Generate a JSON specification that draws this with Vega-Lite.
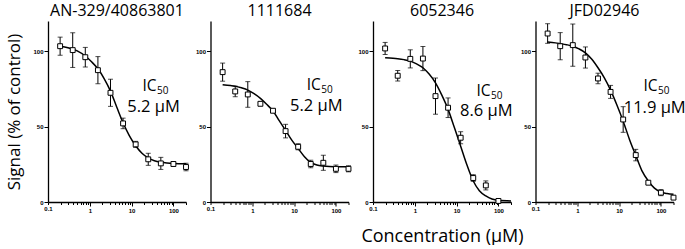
{
  "$schema": "https://vega.github.io/schema/vega-lite/v6.json",
  "background": "white",
  "padding": {"left": 5, "top": 3, "right": 0, "bottom": 0},
  "spacing": 24.5,
  "bounds": "flush",
  "config": {
    "view": {"stroke": null},
    "axis": {"grid": false, "domainColor": "black", "tickColor": "black", "labelColor": "black", "labelFont": "Liberation Sans", "labelFontWeight": "bold", "labelFontSize": 6, "domainWidth": 1.3, "tickWidth": 1, "titleColor": "black", "titleFont": "Open Sans", "titleFontWeight": "normal"},
    "title": {"font": "Open Sans", "fontSize": 16, "fontWeight": "normal", "offset": 2, "color": "black"}
  },
  "data": {"values": [
    {"panel": "AN-329/40863801", "kind": "pt", "conc": 0.195, "y": 103.3, "lo": 97.3, "hi": 109.3},
    {"panel": "AN-329/40863801", "kind": "pt", "conc": 0.39, "y": 100.7, "lo": 89.2, "hi": 112.2},
    {"panel": "AN-329/40863801", "kind": "pt", "conc": 0.78, "y": 96, "lo": 89.5, "hi": 102.5},
    {"panel": "AN-329/40863801", "kind": "pt", "conc": 1.5625, "y": 87.4, "lo": 78.4, "hi": 96.4},
    {"panel": "AN-329/40863801", "kind": "pt", "conc": 3.125, "y": 72.4, "lo": 63.4, "hi": 81.4},
    {"panel": "AN-329/40863801", "kind": "pt", "conc": 6.25, "y": 52.1, "lo": 48.6, "hi": 55.6},
    {"panel": "AN-329/40863801", "kind": "pt", "conc": 12.5, "y": 38.2, "lo": 36.2, "hi": 40.2},
    {"panel": "AN-329/40863801", "kind": "pt", "conc": 25, "y": 28.3, "lo": 24.3, "hi": 32.3},
    {"panel": "AN-329/40863801", "kind": "pt", "conc": 50, "y": 25.6, "lo": 21.6, "hi": 29.6},
    {"panel": "AN-329/40863801", "kind": "pt", "conc": 100, "y": 25.2, "lo": 23.7, "hi": 26.7},
    {"panel": "AN-329/40863801", "kind": "pt", "conc": 200, "y": 23.2, "lo": 20.7, "hi": 25.7},
    {"panel": "AN-329/40863801", "kind": "fit", "conc": 0.195, "y": 103.3},
    {"panel": "AN-329/40863801", "kind": "fit", "conc": 0.3, "y": 102.3},
    {"panel": "AN-329/40863801", "kind": "fit", "conc": 0.5, "y": 100.2},
    {"panel": "AN-329/40863801", "kind": "fit", "conc": 0.78, "y": 96.8},
    {"panel": "AN-329/40863801", "kind": "fit", "conc": 1.1, "y": 93},
    {"panel": "AN-329/40863801", "kind": "fit", "conc": 1.5625, "y": 88.3},
    {"panel": "AN-329/40863801", "kind": "fit", "conc": 2.2, "y": 81.8},
    {"panel": "AN-329/40863801", "kind": "fit", "conc": 3.125, "y": 73.5},
    {"panel": "AN-329/40863801", "kind": "fit", "conc": 4.4, "y": 63},
    {"panel": "AN-329/40863801", "kind": "fit", "conc": 6.25, "y": 52.5},
    {"panel": "AN-329/40863801", "kind": "fit", "conc": 8.8, "y": 44},
    {"panel": "AN-329/40863801", "kind": "fit", "conc": 12.5, "y": 37.3},
    {"panel": "AN-329/40863801", "kind": "fit", "conc": 17.7, "y": 32.3},
    {"panel": "AN-329/40863801", "kind": "fit", "conc": 25, "y": 29.2},
    {"panel": "AN-329/40863801", "kind": "fit", "conc": 35, "y": 27.4},
    {"panel": "AN-329/40863801", "kind": "fit", "conc": 50, "y": 26.4},
    {"panel": "AN-329/40863801", "kind": "fit", "conc": 70, "y": 25.9},
    {"panel": "AN-329/40863801", "kind": "fit", "conc": 100, "y": 25.6},
    {"panel": "AN-329/40863801", "kind": "fit", "conc": 200, "y": 25.4},
    {"panel": "AN-329/40863801", "kind": "ic", "conc": 39.5, "y": 73.5, "label": "IC", "sub": "50"},
    {"panel": "AN-329/40863801", "kind": "val", "conc": 33.5, "y": 60, "label": "5.2 µM"},

    {"panel": "1111684", "kind": "pt", "conc": 0.195, "y": 86.1, "lo": 80.1, "hi": 92.1},
    {"panel": "1111684", "kind": "pt", "conc": 0.39, "y": 73.3, "lo": 69.8, "hi": 76.8},
    {"panel": "1111684", "kind": "pt", "conc": 0.78, "y": 71.3, "lo": 62.8, "hi": 79.8},
    {"panel": "1111684", "kind": "pt", "conc": 1.5625, "y": 65.1, "lo": 64.1, "hi": 66.1},
    {"panel": "1111684", "kind": "pt", "conc": 3.125, "y": 60.5, "lo": 59.5, "hi": 61.5},
    {"panel": "1111684", "kind": "pt", "conc": 6.25, "y": 47, "lo": 42.5, "hi": 51.5},
    {"panel": "1111684", "kind": "pt", "conc": 12.5, "y": 36.6, "lo": 34.6, "hi": 38.6},
    {"panel": "1111684", "kind": "pt", "conc": 25, "y": 25.2, "lo": 22.7, "hi": 27.7},
    {"panel": "1111684", "kind": "pt", "conc": 50, "y": 26, "lo": 21, "hi": 31},
    {"panel": "1111684", "kind": "pt", "conc": 100, "y": 22, "lo": 19.5, "hi": 24.5},
    {"panel": "1111684", "kind": "pt", "conc": 200, "y": 22, "lo": 20, "hi": 24},
    {"panel": "1111684", "kind": "fit", "conc": 0.195, "y": 77.7},
    {"panel": "1111684", "kind": "fit", "conc": 0.3, "y": 77.2},
    {"panel": "1111684", "kind": "fit", "conc": 0.39, "y": 76.8},
    {"panel": "1111684", "kind": "fit", "conc": 0.55, "y": 75.7},
    {"panel": "1111684", "kind": "fit", "conc": 0.78, "y": 74.2},
    {"panel": "1111684", "kind": "fit", "conc": 1.1, "y": 71.8},
    {"panel": "1111684", "kind": "fit", "conc": 1.5625, "y": 68.7},
    {"panel": "1111684", "kind": "fit", "conc": 2.2, "y": 64.8},
    {"panel": "1111684", "kind": "fit", "conc": 3.125, "y": 60.3},
    {"panel": "1111684", "kind": "fit", "conc": 4.4, "y": 54},
    {"panel": "1111684", "kind": "fit", "conc": 6.25, "y": 47.5},
    {"panel": "1111684", "kind": "fit", "conc": 8.8, "y": 41},
    {"panel": "1111684", "kind": "fit", "conc": 12.5, "y": 35.5},
    {"panel": "1111684", "kind": "fit", "conc": 17.7, "y": 30},
    {"panel": "1111684", "kind": "fit", "conc": 25, "y": 26.2},
    {"panel": "1111684", "kind": "fit", "conc": 35, "y": 24.5},
    {"panel": "1111684", "kind": "fit", "conc": 50, "y": 23.8},
    {"panel": "1111684", "kind": "fit", "conc": 70, "y": 23.5},
    {"panel": "1111684", "kind": "fit", "conc": 100, "y": 23.4},
    {"panel": "1111684", "kind": "fit", "conc": 200, "y": 23.3},
    {"panel": "1111684", "kind": "ic", "conc": 43.4, "y": 74.2, "label": "IC", "sub": "50"},
    {"panel": "1111684", "kind": "val", "conc": 33.9, "y": 60.3, "label": "5.2 µM"},

    {"panel": "6052346", "kind": "pt", "conc": 0.195, "y": 101.8, "lo": 97.8, "hi": 105.8},
    {"panel": "6052346", "kind": "pt", "conc": 0.39, "y": 83.7, "lo": 80.2, "hi": 87.2},
    {"panel": "6052346", "kind": "pt", "conc": 0.78, "y": 94.9, "lo": 88.9, "hi": 100.9},
    {"panel": "6052346", "kind": "pt", "conc": 1.5625, "y": 95.1, "lo": 87.1, "hi": 103.1},
    {"panel": "6052346", "kind": "pt", "conc": 3.125, "y": 70.2, "lo": 58.2, "hi": 82.2},
    {"panel": "6052346", "kind": "pt", "conc": 6.25, "y": 62.5, "lo": 56, "hi": 69},
    {"panel": "6052346", "kind": "pt", "conc": 12.5, "y": 42.6, "lo": 38.6, "hi": 46.6},
    {"panel": "6052346", "kind": "pt", "conc": 25, "y": 15.9, "lo": 13.7, "hi": 18.1},
    {"panel": "6052346", "kind": "pt", "conc": 50, "y": 11, "lo": 8, "hi": 14},
    {"panel": "6052346", "kind": "pt", "conc": 100, "y": 0.7, "lo": 0.2, "hi": 1.2},
    {"panel": "6052346", "kind": "fit", "conc": 0.195, "y": 95.6},
    {"panel": "6052346", "kind": "fit", "conc": 0.3, "y": 95.3},
    {"panel": "6052346", "kind": "fit", "conc": 0.39, "y": 95},
    {"panel": "6052346", "kind": "fit", "conc": 0.55, "y": 94.4},
    {"panel": "6052346", "kind": "fit", "conc": 0.78, "y": 93.4},
    {"panel": "6052346", "kind": "fit", "conc": 1.1, "y": 91.6},
    {"panel": "6052346", "kind": "fit", "conc": 1.5625, "y": 89},
    {"panel": "6052346", "kind": "fit", "conc": 2.2, "y": 84.8},
    {"panel": "6052346", "kind": "fit", "conc": 3.125, "y": 79},
    {"panel": "6052346", "kind": "fit", "conc": 4.4, "y": 71},
    {"panel": "6052346", "kind": "fit", "conc": 6.25, "y": 61.4},
    {"panel": "6052346", "kind": "fit", "conc": 8.8, "y": 49.5},
    {"panel": "6052346", "kind": "fit", "conc": 12.5, "y": 37},
    {"panel": "6052346", "kind": "fit", "conc": 17.7, "y": 24.5},
    {"panel": "6052346", "kind": "fit", "conc": 25, "y": 13.9},
    {"panel": "6052346", "kind": "fit", "conc": 35, "y": 7.5},
    {"panel": "6052346", "kind": "fit", "conc": 50, "y": 4},
    {"panel": "6052346", "kind": "fit", "conc": 70, "y": 2},
    {"panel": "6052346", "kind": "fit", "conc": 100, "y": 1.1},
    {"panel": "6052346", "kind": "fit", "conc": 200, "y": 0.7},
    {"panel": "6052346", "kind": "ic", "conc": 65, "y": 70.2, "label": "IC", "sub": "50"},
    {"panel": "6052346", "kind": "val", "conc": 51.3, "y": 57, "label": "8.6 µM"},

    {"panel": "JFD02946", "kind": "pt", "conc": 0.195, "y": 111.7, "lo": 105.2, "hi": 118.2},
    {"panel": "JFD02946", "kind": "pt", "conc": 0.39, "y": 103.3, "lo": 94.3, "hi": 112.3},
    {"panel": "JFD02946", "kind": "pt", "conc": 0.78, "y": 104, "lo": 90, "hi": 118},
    {"panel": "JFD02946", "kind": "pt", "conc": 1.5625, "y": 95.8, "lo": 88.8, "hi": 102.8},
    {"panel": "JFD02946", "kind": "pt", "conc": 3.125, "y": 81.9, "lo": 78.4, "hi": 85.4},
    {"panel": "JFD02946", "kind": "pt", "conc": 6.25, "y": 73, "lo": 68.7, "hi": 77.3},
    {"panel": "JFD02946", "kind": "pt", "conc": 12.5, "y": 54.7, "lo": 46.2, "hi": 63.2},
    {"panel": "JFD02946", "kind": "pt", "conc": 25, "y": 31.1, "lo": 27.3, "hi": 34.9},
    {"panel": "JFD02946", "kind": "pt", "conc": 50, "y": 12.8, "lo": 11.8, "hi": 13.8},
    {"panel": "JFD02946", "kind": "pt", "conc": 100, "y": 6.2, "lo": 4.2, "hi": 8.2},
    {"panel": "JFD02946", "kind": "pt", "conc": 200, "y": 2.9, "lo": 1.9, "hi": 3.9},
    {"panel": "JFD02946", "kind": "fit", "conc": 0.195, "y": 106},
    {"panel": "JFD02946", "kind": "fit", "conc": 0.3, "y": 105.5},
    {"panel": "JFD02946", "kind": "fit", "conc": 0.39, "y": 105},
    {"panel": "JFD02946", "kind": "fit", "conc": 0.55, "y": 104.3},
    {"panel": "JFD02946", "kind": "fit", "conc": 0.78, "y": 103.3},
    {"panel": "JFD02946", "kind": "fit", "conc": 1.1, "y": 101.5},
    {"panel": "JFD02946", "kind": "fit", "conc": 1.5625, "y": 98.9},
    {"panel": "JFD02946", "kind": "fit", "conc": 2.2, "y": 94.8},
    {"panel": "JFD02946", "kind": "fit", "conc": 3.125, "y": 89},
    {"panel": "JFD02946", "kind": "fit", "conc": 4.4, "y": 82.5},
    {"panel": "JFD02946", "kind": "fit", "conc": 6.25, "y": 74.2},
    {"panel": "JFD02946", "kind": "fit", "conc": 8.8, "y": 64.5},
    {"panel": "JFD02946", "kind": "fit", "conc": 12.5, "y": 53.6},
    {"panel": "JFD02946", "kind": "fit", "conc": 17.7, "y": 41.5},
    {"panel": "JFD02946", "kind": "fit", "conc": 25, "y": 30.9},
    {"panel": "JFD02946", "kind": "fit", "conc": 35, "y": 20.8},
    {"panel": "JFD02946", "kind": "fit", "conc": 50, "y": 13.9},
    {"panel": "JFD02946", "kind": "fit", "conc": 70, "y": 9.2},
    {"panel": "JFD02946", "kind": "fit", "conc": 100, "y": 6.6},
    {"panel": "JFD02946", "kind": "fit", "conc": 140, "y": 5.6},
    {"panel": "JFD02946", "kind": "fit", "conc": 200, "y": 5.1},
    {"panel": "JFD02946", "kind": "ic", "conc": 82.9, "y": 73.5, "label": "IC", "sub": "50"},
    {"panel": "JFD02946", "kind": "val", "conc": 71, "y": 59.2, "label": "11.9 µM"}
  ]},
  "hconcat": [
    {
      "title": "AN-329/40863801", "width": 138, "height": 181,
      "transform": [{"filter": {"field": "panel", "equal": "AN-329/40863801"}}],
      "encoding": {
        "x": {"field": "conc", "type": "quantitative", "scale": {"type": "log", "domain": [0.1, 200], "nice": false},
              "axis": {"title": null, "values": [0.1,0.2,0.3,0.4,0.5,0.6,0.7,0.8,0.9,1,2,3,4,5,6,7,8,9,10,20,30,40,50,60,70,80,90,100,200], "format": "~g", "labelExpr": "datum.value == 0.1 || datum.value == 1 || datum.value == 10 || datum.value == 100 ? datum.label : ''", "labelOverlap": false, "labelFlush": false, "labelPadding": 1, "tickSize": {"condition": {"test": "datum.value == 1 || datum.value == 10 || datum.value == 100", "value": 4}, "value": 2.5}}},
        "y": {"field": "y", "type": "quantitative", "scale": {"domain": [0, 120], "nice": false},
              "axis": {"title": "Signal (% of control)", "titleFontSize": 17, "titlePadding": 9, "values": [0, 50, 100], "tickSize": 4, "labelPadding": 1}}
      },
      "layer": [
        {"transform": [{"filter": {"field": "kind", "equal": "fit"}}], "mark": {"type": "line", "color": "black", "strokeWidth": 1.5, "interpolate": "monotone"}},
        {"transform": [{"filter": {"field": "kind", "equal": "pt"}}], "mark": {"type": "rule", "color": "black", "strokeWidth": 1}, "encoding": {"y": {"field": "lo", "type": "quantitative"}, "y2": {"field": "hi"}}},
        {"transform": [{"filter": {"field": "kind", "equal": "pt"}}], "mark": {"type": "tick", "orient": "horizontal", "size": 5, "thickness": 1, "color": "black"}, "encoding": {"y": {"field": "lo", "type": "quantitative"}}},
        {"transform": [{"filter": {"field": "kind", "equal": "pt"}}], "mark": {"type": "tick", "orient": "horizontal", "size": 5, "thickness": 1, "color": "black"}, "encoding": {"y": {"field": "hi", "type": "quantitative"}}},
        {"transform": [{"filter": {"field": "kind", "equal": "pt"}}], "mark": {"type": "point", "shape": "square", "size": 24, "filled": true, "fill": "white", "stroke": "black", "strokeWidth": 1, "opacity": 1}},
        {"transform": [{"filter": {"field": "kind", "equal": "ic"}}], "mark": {"type": "text", "align": "right", "baseline": "alphabetic", "fontSize": 15.5, "font": "Open Sans", "color": "black"}, "encoding": {"text": {"field": "label"}}},
        {"transform": [{"filter": {"field": "kind", "equal": "ic"}}], "mark": {"type": "text", "align": "left", "baseline": "alphabetic", "fontSize": 10, "dx": 0.5, "dy": 3, "font": "Open Sans", "color": "black"}, "encoding": {"text": {"field": "sub"}}},
        {"transform": [{"filter": {"field": "kind", "equal": "val"}}], "mark": {"type": "text", "align": "center", "baseline": "alphabetic", "fontSize": 16.5, "font": "Open Sans", "color": "black"}, "encoding": {"text": {"field": "label"}}}
      ]
    },
    {
      "title": "1111684", "width": 138, "height": 181,
      "transform": [{"filter": {"field": "panel", "equal": "1111684"}}],
      "encoding": {
        "x": {"field": "conc", "type": "quantitative", "scale": {"type": "log", "domain": [0.1, 200], "nice": false},
              "axis": {"title": null, "values": [0.1,0.2,0.3,0.4,0.5,0.6,0.7,0.8,0.9,1,2,3,4,5,6,7,8,9,10,20,30,40,50,60,70,80,90,100,200], "format": "~g", "labelExpr": "datum.value == 0.1 || datum.value == 1 || datum.value == 10 || datum.value == 100 ? datum.label : ''", "labelOverlap": false, "labelFlush": false, "labelPadding": 1, "tickSize": {"condition": {"test": "datum.value == 1 || datum.value == 10 || datum.value == 100", "value": 4}, "value": 2.5}}},
        "y": {"field": "y", "type": "quantitative", "scale": {"domain": [0, 120], "nice": false},
              "axis": {"title": null, "values": [0, 50, 100], "tickSize": 4, "labelPadding": 1}}
      },
      "layer": [
        {"transform": [{"filter": {"field": "kind", "equal": "fit"}}], "mark": {"type": "line", "color": "black", "strokeWidth": 1.5, "interpolate": "monotone"}},
        {"transform": [{"filter": {"field": "kind", "equal": "pt"}}], "mark": {"type": "rule", "color": "black", "strokeWidth": 1}, "encoding": {"y": {"field": "lo", "type": "quantitative"}, "y2": {"field": "hi"}}},
        {"transform": [{"filter": {"field": "kind", "equal": "pt"}}], "mark": {"type": "tick", "orient": "horizontal", "size": 5, "thickness": 1, "color": "black"}, "encoding": {"y": {"field": "lo", "type": "quantitative"}}},
        {"transform": [{"filter": {"field": "kind", "equal": "pt"}}], "mark": {"type": "tick", "orient": "horizontal", "size": 5, "thickness": 1, "color": "black"}, "encoding": {"y": {"field": "hi", "type": "quantitative"}}},
        {"transform": [{"filter": {"field": "kind", "equal": "pt"}}], "mark": {"type": "point", "shape": "square", "size": 24, "filled": true, "fill": "white", "stroke": "black", "strokeWidth": 1, "opacity": 1}},
        {"transform": [{"filter": {"field": "kind", "equal": "ic"}}], "mark": {"type": "text", "align": "right", "baseline": "alphabetic", "fontSize": 15.5, "font": "Open Sans", "color": "black"}, "encoding": {"text": {"field": "label"}}},
        {"transform": [{"filter": {"field": "kind", "equal": "ic"}}], "mark": {"type": "text", "align": "left", "baseline": "alphabetic", "fontSize": 10, "dx": 0.5, "dy": 3, "font": "Open Sans", "color": "black"}, "encoding": {"text": {"field": "sub"}}},
        {"transform": [{"filter": {"field": "kind", "equal": "val"}}], "mark": {"type": "text", "align": "center", "baseline": "alphabetic", "fontSize": 16.5, "font": "Open Sans", "color": "black"}, "encoding": {"text": {"field": "label"}}}
      ]
    },
    {
      "title": "6052346", "width": 138, "height": 181,
      "transform": [{"filter": {"field": "panel", "equal": "6052346"}}],
      "encoding": {
        "x": {"field": "conc", "type": "quantitative", "scale": {"type": "log", "domain": [0.1, 200], "nice": false},
              "axis": {"title": "Concentration (µM)", "titleFontSize": 18, "titlePadding": 14, "values": [0.1,0.2,0.3,0.4,0.5,0.6,0.7,0.8,0.9,1,2,3,4,5,6,7,8,9,10,20,30,40,50,60,70,80,90,100,200], "format": "~g", "labelExpr": "datum.value == 0.1 || datum.value == 1 || datum.value == 10 || datum.value == 100 ? datum.label : ''", "labelOverlap": false, "labelFlush": false, "labelPadding": 1, "tickSize": {"condition": {"test": "datum.value == 1 || datum.value == 10 || datum.value == 100", "value": 4}, "value": 2.5}}},
        "y": {"field": "y", "type": "quantitative", "scale": {"domain": [0, 120], "nice": false},
              "axis": {"title": null, "values": [0, 50, 100], "tickSize": 4, "labelPadding": 1}}
      },
      "layer": [
        {"transform": [{"filter": {"field": "kind", "equal": "fit"}}], "mark": {"type": "line", "color": "black", "strokeWidth": 1.5, "interpolate": "monotone"}},
        {"transform": [{"filter": {"field": "kind", "equal": "pt"}}], "mark": {"type": "rule", "color": "black", "strokeWidth": 1}, "encoding": {"y": {"field": "lo", "type": "quantitative"}, "y2": {"field": "hi"}}},
        {"transform": [{"filter": {"field": "kind", "equal": "pt"}}], "mark": {"type": "tick", "orient": "horizontal", "size": 5, "thickness": 1, "color": "black"}, "encoding": {"y": {"field": "lo", "type": "quantitative"}}},
        {"transform": [{"filter": {"field": "kind", "equal": "pt"}}], "mark": {"type": "tick", "orient": "horizontal", "size": 5, "thickness": 1, "color": "black"}, "encoding": {"y": {"field": "hi", "type": "quantitative"}}},
        {"transform": [{"filter": {"field": "kind", "equal": "pt"}}], "mark": {"type": "point", "shape": "square", "size": 24, "filled": true, "fill": "white", "stroke": "black", "strokeWidth": 1, "opacity": 1}},
        {"transform": [{"filter": {"field": "kind", "equal": "ic"}}], "mark": {"type": "text", "align": "right", "baseline": "alphabetic", "fontSize": 15.5, "font": "Open Sans", "color": "black"}, "encoding": {"text": {"field": "label"}}},
        {"transform": [{"filter": {"field": "kind", "equal": "ic"}}], "mark": {"type": "text", "align": "left", "baseline": "alphabetic", "fontSize": 10, "dx": 0.5, "dy": 3, "font": "Open Sans", "color": "black"}, "encoding": {"text": {"field": "sub"}}},
        {"transform": [{"filter": {"field": "kind", "equal": "val"}}], "mark": {"type": "text", "align": "center", "baseline": "alphabetic", "fontSize": 16.5, "font": "Open Sans", "color": "black"}, "encoding": {"text": {"field": "label"}}}
      ]
    },
    {
      "title": "JFD02946", "width": 138, "height": 181,
      "transform": [{"filter": {"field": "panel", "equal": "JFD02946"}}],
      "encoding": {
        "x": {"field": "conc", "type": "quantitative", "scale": {"type": "log", "domain": [0.1, 200], "nice": false},
              "axis": {"title": null, "values": [0.1,0.2,0.3,0.4,0.5,0.6,0.7,0.8,0.9,1,2,3,4,5,6,7,8,9,10,20,30,40,50,60,70,80,90,100,200], "format": "~g", "labelExpr": "datum.value == 0.1 || datum.value == 1 || datum.value == 10 || datum.value == 100 ? datum.label : ''", "labelOverlap": false, "labelFlush": false, "labelPadding": 1, "tickSize": {"condition": {"test": "datum.value == 1 || datum.value == 10 || datum.value == 100", "value": 4}, "value": 2.5}}},
        "y": {"field": "y", "type": "quantitative", "scale": {"domain": [0, 120], "nice": false},
              "axis": {"title": null, "values": [0, 50, 100], "tickSize": 4, "labelPadding": 1}}
      },
      "layer": [
        {"transform": [{"filter": {"field": "kind", "equal": "fit"}}], "mark": {"type": "line", "color": "black", "strokeWidth": 1.5, "interpolate": "monotone"}},
        {"transform": [{"filter": {"field": "kind", "equal": "pt"}}], "mark": {"type": "rule", "color": "black", "strokeWidth": 1}, "encoding": {"y": {"field": "lo", "type": "quantitative"}, "y2": {"field": "hi"}}},
        {"transform": [{"filter": {"field": "kind", "equal": "pt"}}], "mark": {"type": "tick", "orient": "horizontal", "size": 5, "thickness": 1, "color": "black"}, "encoding": {"y": {"field": "lo", "type": "quantitative"}}},
        {"transform": [{"filter": {"field": "kind", "equal": "pt"}}], "mark": {"type": "tick", "orient": "horizontal", "size": 5, "thickness": 1, "color": "black"}, "encoding": {"y": {"field": "hi", "type": "quantitative"}}},
        {"transform": [{"filter": {"field": "kind", "equal": "pt"}}], "mark": {"type": "point", "shape": "square", "size": 24, "filled": true, "fill": "white", "stroke": "black", "strokeWidth": 1, "opacity": 1}},
        {"transform": [{"filter": {"field": "kind", "equal": "ic"}}], "mark": {"type": "text", "align": "right", "baseline": "alphabetic", "fontSize": 15.5, "font": "Open Sans", "color": "black"}, "encoding": {"text": {"field": "label"}}},
        {"transform": [{"filter": {"field": "kind", "equal": "ic"}}], "mark": {"type": "text", "align": "left", "baseline": "alphabetic", "fontSize": 10, "dx": 0.5, "dy": 3, "font": "Open Sans", "color": "black"}, "encoding": {"text": {"field": "sub"}}},
        {"transform": [{"filter": {"field": "kind", "equal": "val"}}], "mark": {"type": "text", "align": "center", "baseline": "alphabetic", "fontSize": 16.5, "font": "Open Sans", "color": "black"}, "encoding": {"text": {"field": "label"}}}
      ]
    }
  ]
}
